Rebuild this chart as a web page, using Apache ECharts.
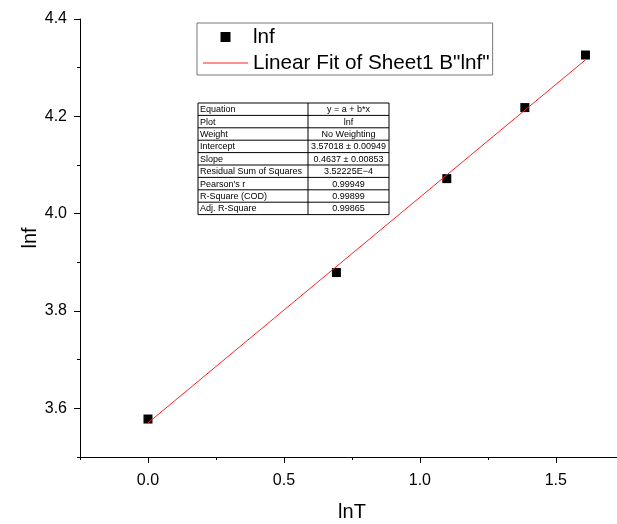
<!DOCTYPE html>
<html>
<head>
<meta charset="utf-8">
<title>lnf vs lnT</title>
<script src="https://cdn.jsdelivr.net/npm/echarts@6/dist/echarts.min.js"></script>
<style>
    html, body { margin: 0; padding: 0; background: #fff; }
    #div_chart { width: 617px; height: 524px; }
</style>
</head>
<body>
<div id="div_chart"></div>
<script>
(function () {
    'use strict';

    // measured points
    var lnT = [0, 0.693, 1.099, 1.386, 1.609];
    var lnf = [3.578, 3.879, 4.072, 4.218, 4.326];

    // fit line end points
    var fitX = [0, 1.609];
    var fitY = [3.570, 4.316];

    var xMajor = [0, 0.5, 1.0, 1.5];
    var xMinor = [-0.25, 0.25, 0.75, 1.25];
    var yMajor = [3.6, 3.8, 4.0, 4.2, 4.4];
    var yMinor = [3.5, 3.7, 3.9, 4.1, 4.3];

    var tableLabels = ['Equation', 'Plot', 'Weight', 'Intercept', 'Slope', 'Residual Sum of Squares', "Pearson's r", 'R-Square (COD)', 'Adj. R-Square'];
    var tableValues = ['y = a + b*x', 'lnf', 'No Weighting', '3.57018 \u00b1 0.00949', '0.4637 \u00b1 0.00853', '3.52225E\u22124', '0.99949', '0.99899', '0.99865'];

    var seriesNames = ['lnf', 'Linear Fit of Sheet1 B"lnf"'];

    var FONT = '"Liberation Sans", Arial, sans-serif';

    var myChart = echarts.init(document.getElementById('div_chart'));

    function zip(a, b) {
        var out = [];
        for (var i = 0; i < a.length; i++) {
            out.push([a[i], b[i]]);
        }
        return out;
    }

    // fit-result table drawn as graphic
    function buildTable() {
        var left = 198, top = 103, w = 191, colX = 308, rowH = 12.4;
        var children = [];
        var h = rowH * tableLabels.length;
        children.push({
            type: 'rect',
            shape: { x: left, y: top, width: w, height: h },
            style: { fill: '#fff', stroke: '#000', lineWidth: 1 }
        });
        children.push({
            type: 'line',
            shape: { x1: colX, y1: top, x2: colX, y2: top + h },
            style: { stroke: '#000', lineWidth: 1 }
        });
        for (var i = 0; i < tableLabels.length; i++) {
            var y = top + rowH * i;
            if (i > 0) {
                children.push({
                    type: 'line',
                    shape: { x1: left, y1: y, x2: left + w, y2: y },
                    style: { stroke: '#000', lineWidth: 1 }
                });
            }
            children.push({
                type: 'text',
                style: {
                    x: left + 2, y: y + rowH / 2 + 0.5,
                    text: tableLabels[i],
                    font: '9px ' + FONT,
                    fill: '#000',
                    verticalAlign: 'middle'
                }
            });
            children.push({
                type: 'text',
                style: {
                    x: (colX + left + w) / 2, y: y + rowH / 2 + 0.5,
                    text: tableValues[i],
                    font: '9px ' + FONT,
                    fill: '#000',
                    align: 'center',
                    verticalAlign: 'middle'
                }
            });
        }
        return [{ type: 'group', children: children, z: 100 }];
    }

    function getOption() {
        var option = {
            animation: false,
            textStyle: { fontFamily: FONT },
            grid: {
                left: 80,
                top: 19,
                right: 0,
                bottom: 67,
                outerBoundsMode: 'none',
                show: false
            },
            legend: {
                left: 197,
                top: 23,
                orient: 'vertical',
                padding: [3, 3, 1, 6],
                itemGap: 4,
                itemWidth: 45,
                itemHeight: 10,
                borderColor: '#777',
                borderWidth: 1,
                backgroundColor: '#fff',
                textStyle: { fontSize: 20.7, lineHeight: 22, color: '#000', fontFamily: FONT },
                data: [
                    { name: seriesNames[0], icon: 'path://M0,0L10,0L10,10L0,10Z', itemStyle: { color: '#000', opacity: 1 } },
                    { name: seriesNames[1], icon: 'path://M0,0L45,0L45,1L0,1Z', itemStyle: { color: '#ff2020' } }
                ]
            },
            xAxis: [
                {
                    type: 'value',
                    min: -0.25,
                    max: 1.725,
                    name: 'lnT',
                    nameLocation: 'middle',
                    nameGap: 45,
                    nameMoveOverlap: false,
                    nameTextStyle: { fontSize: 20, color: '#000', fontFamily: FONT, padding: [0, 0, 0, 7] },
                    splitLine: { show: false },
                    axisLine: { show: true, onZero: false, lineStyle: { color: '#000', width: 1 } },
                    axisTick: { show: true, length: 6, customValues: xMajor, lineStyle: { color: '#000' } },
                    axisLabel: {
                        customValues: xMajor,
                        margin: 16,
                        fontSize: 16,
                        color: '#000',
                        formatter: function (v) { return v.toFixed(1); }
                    }
                },
                {
                    type: 'value',
                    position: 'bottom',
                    min: -0.25,
                    max: 1.725,
                    splitLine: { show: false },
                    axisLine: { show: false, onZero: false },
                    axisTick: { show: true, length: 3, customValues: xMinor, lineStyle: { color: '#000' } },
                    axisLabel: { show: false }
                }
            ],
            yAxis: [
                {
                    type: 'value',
                    min: 3.5,
                    max: 4.4,
                    name: 'lnf',
                    nameLocation: 'middle',
                    nameGap: 40,
                    nameMoveOverlap: false,
                    nameTextStyle: { fontSize: 20, color: '#000', fontFamily: FONT },
                    splitLine: { show: false },
                    axisLine: { show: true, onZero: false, lineStyle: { color: '#000', width: 1 } },
                    axisTick: { show: true, length: 6, customValues: yMajor, lineStyle: { color: '#000' } },
                    axisLabel: {
                        customValues: yMajor,
                        margin: 13,
                        fontSize: 16,
                        color: '#000',
                        formatter: function (v) { return v.toFixed(1); }
                    }
                },
                {
                    type: 'value',
                    position: 'left',
                    min: 3.5,
                    max: 4.4,
                    splitLine: { show: false },
                    axisLine: { show: false, onZero: false },
                    axisTick: { show: true, length: 3, customValues: yMinor, lineStyle: { color: '#000' } },
                    axisLabel: { show: false }
                }
            ],
            series: [
                {
                    name: seriesNames[0],
                    type: 'scatter',
                    symbol: 'rect',
                    symbolSize: 9,
                    itemStyle: { color: '#000', opacity: 1 },
                    data: zip(lnT, lnf)
                },
                {
                    name: seriesNames[1],
                    type: 'line',
                    symbol: 'none',
                    lineStyle: { color: '#ff2020', width: 1 },
                    itemStyle: { color: '#ff2020' },
                    data: zip(fitX, fitY),
                    z: 3
                }
            ],
            graphic: buildTable()
        };
        return option;
    }

    myChart.setOption(getOption());
})();
</script>
</body>
</html>
